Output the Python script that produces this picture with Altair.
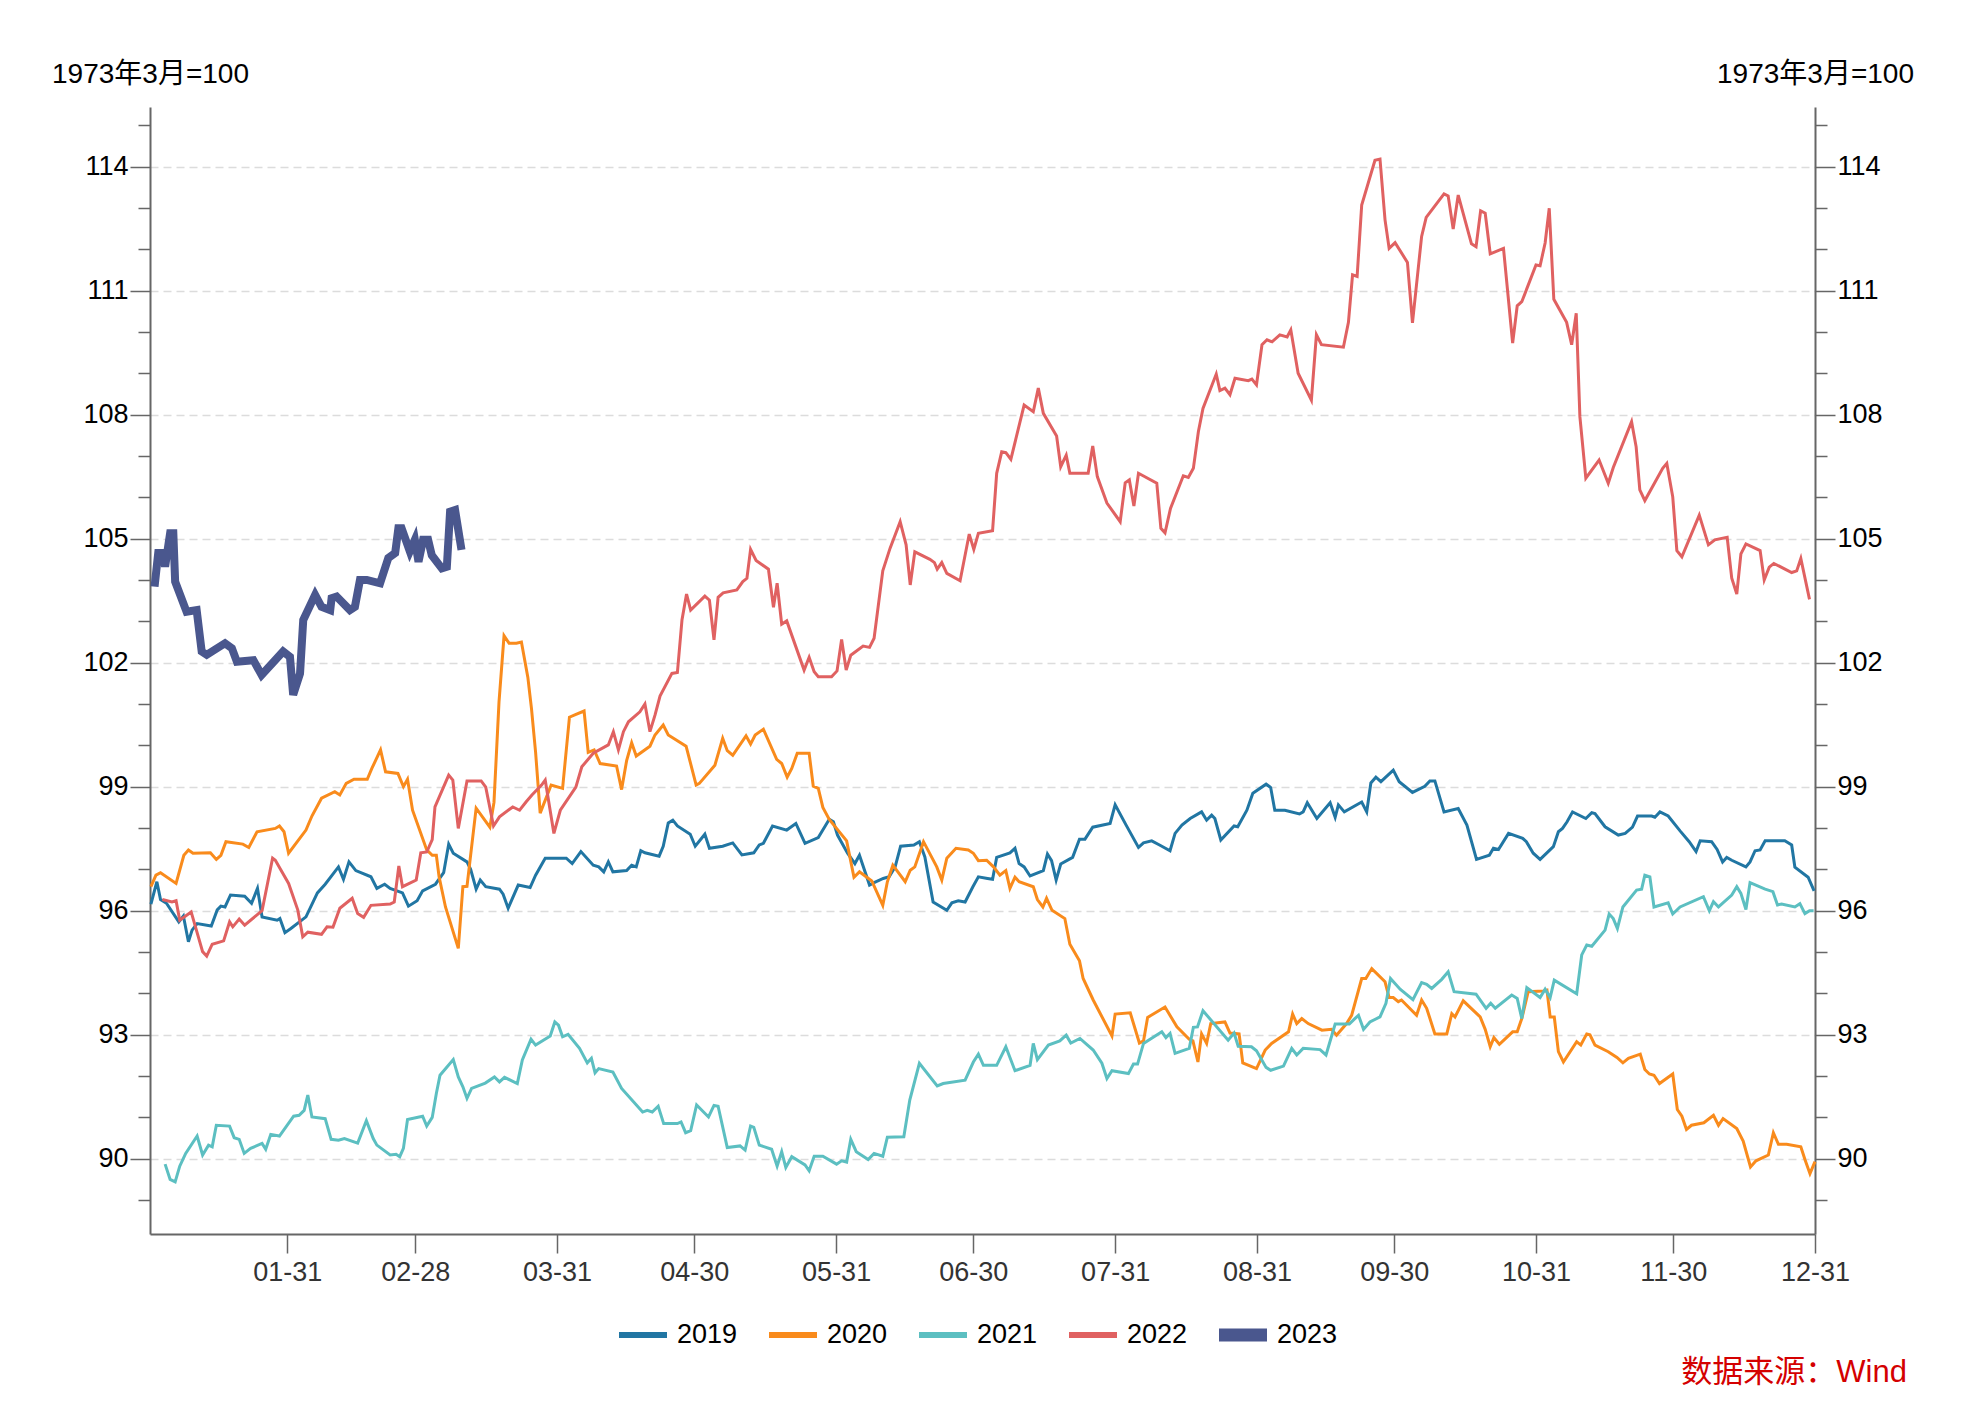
import altair as alt
import pandas as pd

FONT = "Liberation Sans, Noto Sans CJK SC, sans-serif"

years = ["2019", "2020", "2021", "2022", "2023"]
colors = ["#2176a3", "#f98b1c", "#5cbfc1", "#e06161", "#4a578e"]
# legend keys: flat bars (thin for 2019-2022, thick for 2023), same outer extent
thin_key = "M-1,-0.125H1V0.125H-1Z M0,-0.28L0,-0.28 M0,0.28L0,0.28"
thick_key = "M-1,-0.27H1V0.27H-1Z M0,-0.28L0,-0.28 M0,0.28L0,0.28"
legend_keys = [thin_key, thin_key, thin_key, thin_key, thick_key]

# (day of year, index value)
pts_2019 = [(0.2,96.16),(1.5,96.70),(2.3,96.27),(3.6,96.18),(6.3,95.73),(7.3,95.87),(8.4,95.25),(9.2,95.53),(10.3,95.69),(13.4,95.63),(14.7,96.02),(15.5,96.11),(16.4,96.09),(17.6,96.38),(20.7,96.35),(22.2,96.18),(23.5,96.54),(24.5,95.85),(27.8,95.77),(28.4,95.81),(29.5,95.47),(30.8,95.57),(34.1,95.85),(36.6,96.43),(38.3,96.64),(41.2,97.06),(42.3,96.76),(43.5,97.18),(45.0,96.97),(48.3,96.82),(49.6,96.54),(51.3,96.64),(52.5,96.54),(55.2,96.43),(56.5,96.11),(58.4,96.24),(59.6,96.48),(62.4,96.64),(64.2,96.92),(65.3,97.61),(66.3,97.39),(69.3,97.18),(70.1,97.00),(71.3,96.52),(72.2,96.74),(73.4,96.58),(76.4,96.52),(77.2,96.40),(78.3,96.06),(80.5,96.62),(83.1,96.56),(84.3,96.86),(86.4,97.27),(91.0,97.27),(92.3,97.14),(94.2,97.43),(96.9,97.10),(98.1,97.06),(99.2,96.94),(100.2,97.18),(101.2,96.94),(104.2,96.97),(105.3,97.10),(106.3,97.06),(107.3,97.45),(108.2,97.40),(111.3,97.32),(112.2,97.56),(113.3,98.12),(114.3,98.19),(115.3,98.05),(118.1,97.85),(119.2,97.56),(121.3,97.85),(122.3,97.51),(125.2,97.56),(127.4,97.64),(129.4,97.35),(132.0,97.40),(133.2,97.59),(134.1,97.63),(136.1,98.05),(139.2,97.95),(141.2,98.11),(143.2,97.63),(146.1,97.77),(148.5,98.21),(149.4,98.15),(150.3,97.83),(152.5,97.39),(154.1,97.14),(155.1,97.34),(157.3,96.62),(158.3,96.68),(160.3,96.78),(161.6,96.82),(162.9,97.06),(164.1,97.56),(167.0,97.59),(168.2,97.67),(169.4,97.30),(171.2,96.21),(174.2,96.01),(175.3,96.19),(176.7,96.24),(178.2,96.21),(179.9,96.58),(181.1,96.82),(183.1,96.78),(184.2,96.76),(185.1,97.29),(188.0,97.40),(189.1,97.51),(190.0,97.14),(191.1,97.06),(192.4,96.84),(195.3,96.97),(196.2,97.37),(197.1,97.21),(198.1,96.74),(199.1,97.13),(201.7,97.29),(203.2,97.73),(204.4,97.73),(206.1,98.02),(209.9,98.11),(211.0,98.56),(213.4,98.07),(216.1,97.53),(217.2,97.64),(219.0,97.69),(220.7,97.59),(223.0,97.45),(224.1,97.87),(225.6,98.07),(227.4,98.23),(229.9,98.39),(231.0,98.19),(232.1,98.31),(232.8,98.23),(234.1,97.71),(237.0,98.05),(237.8,98.03),(239.8,98.43),(241.1,98.84),(244.0,99.06),(245.0,98.98),(245.9,98.43),(248.1,98.43),(251.3,98.34),(252.1,98.39),(253.0,98.61),(255.1,98.23),(258.0,98.61),(259.1,98.26),(259.8,98.56),(261.1,98.39),(264.9,98.63),(266.0,98.39),(266.9,99.09),(268.0,99.23),(269.1,99.12),(271.8,99.40),(273.1,99.12),(276.0,98.86),(278.7,99.01),(279.8,99.14),(280.9,99.14),(282.9,98.39),(286.0,98.47),(287.9,98.07),(290.0,97.24),(292.8,97.34),(293.7,97.51),(294.8,97.48),(297.0,97.87),(300.1,97.75),(300.9,97.67),(302.4,97.39),(303.9,97.24),(306.8,97.55),(307.9,97.91),(308.8,97.99),(309.8,98.15),(311.0,98.39),(313.9,98.23),(315.2,98.37),(315.9,98.35),(318.1,98.03),(321.0,97.83),(322.5,97.87),(324.1,98.02),(325.2,98.29),(328.3,98.29),(329.0,98.26),(330.1,98.39),(331.9,98.29),(334.5,97.93),(336.5,97.67),(338.0,97.43),(338.9,97.69),(341.4,97.67),(342.6,97.48),(343.8,97.18),(344.7,97.29),(345.8,97.22),(348.9,97.06),(349.8,97.18),(350.9,97.45),(352.0,97.47),(353.1,97.69),(357.4,97.69),(358.9,97.59),(359.6,97.05),(362.5,96.81),(363.8,96.48)]

pts_2020 = [(0.2,96.58),(1.3,96.86),(2.3,96.92),(5.7,96.66),(7.4,97.34),(8.4,97.47),(9.4,97.39),(13.2,97.40),(14.5,97.24),(15.5,97.34),(16.6,97.67),(20.3,97.61),(21.6,97.53),(23.4,97.91),(27.4,97.99),(28.3,98.05),(29.3,97.91),(30.3,97.39),(34.1,97.95),(35.4,98.29),(37.5,98.72),(40.4,98.88),(41.5,98.80),(42.9,99.08),(44.6,99.18),(47.5,99.18),(48.5,99.44),(50.4,99.89),(51.5,99.36),(54.2,99.32),(55.4,99.00),(56.3,99.18),(57.4,98.43),(60.5,97.47),(61.7,97.34),(62.6,97.34),(63.2,96.82),(64.6,96.09),(67.4,95.09),(68.4,96.58),(69.3,96.59),(71.3,98.48),(74.3,98.02),(75.2,98.62),(76.3,101.05),(77.4,102.65),(78.5,102.47),(80.1,102.47),(81.2,102.50),(82.6,101.65),(83.4,100.89),(84.3,99.83),(85.3,98.36),(87.7,99.04),(90.2,98.96),(91.7,100.68),(93.0,100.74),(94.9,100.83),(95.8,99.83),(97.1,99.89),(98.4,99.56),(102.0,99.50),(103.1,98.93),(104.2,99.63),(105.3,100.06),(106.3,99.74),(109.3,99.98),(110.4,100.25),(112.2,100.49),(113.3,100.25),(117.2,99.98),(119.4,99.04),(120.1,99.08),(123.5,99.52),(125.2,100.17),(126.2,99.87),(127.4,99.76),(130.3,100.23),(131.3,100.03),(132.3,100.25),(134.1,100.39),(137.0,99.66),(138.1,99.56),(139.3,99.23),(140.3,99.44),(141.5,99.81),(144.1,99.81),(145.0,99.01),(146.1,98.96),(147.1,98.50),(148.5,98.21),(152.3,97.69),(153.9,96.81),(155.1,96.94),(157.8,96.72),(160.2,96.13),(161.2,96.70),(162.4,97.10),(165.1,96.70),(166.2,96.98),(167.2,97.06),(169.1,97.67),(172.0,97.06),(173.1,96.74),(174.2,97.27),(176.2,97.51),(178.9,97.47),(180.0,97.39),(181.1,97.21),(182.9,97.22),(184.4,97.06),(185.8,96.86),(187.1,96.97),(188.0,96.54),(189.1,96.81),(190.0,96.70),(193.1,96.58),(194.0,96.27),(195.2,96.09),(196.0,96.30),(197.2,96.01),(200.0,95.81),(201.1,95.19),(203.2,94.79),(204.0,94.36),(206.2,93.84),(210.3,92.97),(211.0,93.50),(214.3,93.53),(216.3,92.80),(217.2,92.85),(218.1,93.42),(221.9,93.67),(224.5,93.19),(227.2,92.89),(228.0,92.85),(229.1,92.34),(229.9,93.02),(231.0,92.79),(231.9,93.27),(235.0,93.31),(236.1,93.04),(238.1,93.02),(238.9,92.32),(241.9,92.18),(243.8,92.63),(245.2,92.79),(248.9,93.07),(249.8,93.50),(250.7,93.27),(251.8,93.39),(253.2,93.27),(256.2,93.11),(258.3,93.13),(259.4,92.99),(261.6,93.27),(262.7,93.47),(264.9,94.36),(265.8,94.36),(267.1,94.60),(270.0,94.28),(270.9,93.90),(271.8,93.90),(272.9,93.80),(273.6,93.84),(276.9,93.47),(278.0,93.84),(279.1,93.64),(280.9,93.02),(283.5,93.02),(284.6,93.51),(285.3,93.43),(287.1,93.82),(290.8,93.43),(291.9,93.13),(293.0,92.71),(293.8,92.93),(295.0,92.77),(297.9,93.07),(298.9,93.07),(299.9,93.39),(301.3,94.04),(304.6,94.06),(305.4,94.08),(306.1,93.43),(307.0,93.43),(307.9,92.59),(309.0,92.34),(311.9,92.83),(312.8,92.75),(314.1,93.02),(314.8,93.00),(315.9,92.75),(318.8,92.59),(320.7,92.45),(322.0,92.32),(323.2,92.43),(325.8,92.53),(326.8,92.16),(327.8,92.05),(328.8,92.02),(330.0,91.82),(332.9,92.05),(333.9,91.19),(334.9,91.03),(335.9,90.71),(337.0,90.81),(339.7,90.87),(341.8,91.05),(342.9,90.81),(343.9,90.97),(346.9,90.73),(348.3,90.43),(349.9,89.80),(351.1,89.95),(353.8,90.09),(354.9,90.63),(356.0,90.35),(357.8,90.35),(360.9,90.29),(361.8,89.98),(362.9,89.64),(364.0,89.93)]

pts_2021 = [(3.3,89.87),(4.4,89.50),(5.5,89.44),(6.5,89.82),(7.8,90.13),(10.3,90.55),(11.5,90.09),(12.8,90.33),(13.6,90.29),(14.5,90.81),(17.4,90.79),(18.4,90.51),(19.5,90.47),(20.6,90.13),(22.0,90.25),(24.5,90.37),(25.3,90.23),(26.4,90.59),(28.3,90.55),(31.4,91.03),(32.6,91.05),(33.7,91.17),(34.5,91.54),(35.4,91.01),(38.3,90.97),(39.6,90.47),(41.2,90.45),(42.5,90.49),(45.4,90.38),(47.3,90.92),(48.8,90.49),(49.6,90.33),(52.5,90.09),(53.8,90.11),(54.6,90.05),(55.4,90.25),(56.3,90.95),(59.6,91.03),(60.5,90.79),(61.7,91.00),(62.6,91.58),(63.4,92.02),(66.3,92.40),(67.4,91.98),(68.4,91.74),(69.3,91.46),(70.3,91.70),(73.3,91.83),(75.3,91.98),(76.4,91.86),(77.5,91.97),(80.3,91.82),(81.4,92.39),(83.3,92.89),(84.3,92.75),(87.5,92.97),(88.5,93.31),(89.3,93.23),(90.2,92.95),(91.4,93.01),(93.9,92.67),(95.6,92.32),(96.5,92.43),(97.3,92.08),(98.1,92.18),(101.2,92.10),(103.1,91.70),(107.7,91.13),(108.7,91.17),(109.8,91.13),(111.1,91.27),(112.3,90.85),(115.3,90.85),(116.1,90.89),(117.1,90.63),(118.2,90.68),(119.5,91.30),(122.1,91.01),(123.3,91.29),(124.2,91.27),(126.2,90.27),(129.0,90.31),(130.1,90.21),(131.3,90.79),(132.0,90.76),(133.2,90.33),(135.9,90.23),(137.1,89.82),(138.1,90.17),(139.0,89.79),(140.3,90.05),(143.2,89.85),(144.1,89.71),(145.2,90.06),(147.1,90.06),(150.1,89.87),(151.2,89.95),(152.3,89.92),(153.2,90.47),(154.4,90.17),(157.0,89.98),(158.3,90.13),(160.2,90.06),(161.2,90.52),(164.8,90.53),(166.1,91.42),(168.2,92.31),(172.1,91.76),(173.4,91.82),(178.2,91.90),(180.0,92.34),(181.1,92.53),(182.2,92.26),(185.1,92.26),(187.1,92.71),(189.1,92.13),(192.4,92.26),(193.1,92.79),(194.0,92.40),(196.4,92.75),(198.9,92.85),(200.3,92.99),(201.3,92.80),(203.3,92.91),(206.2,92.63),(208.1,92.31),(209.2,91.94),(210.3,92.13),(213.9,92.06),(215.0,92.29),(215.9,92.29),(217.2,92.79),(221.2,93.07),(222.1,92.93),(223.0,93.03),(224.1,92.55),(227.2,92.67),(228.1,93.18),(229.0,93.19),(230.2,93.58),(235.7,92.87),(237.0,93.04),(237.9,92.72),(240.8,92.71),(241.9,92.61),(244.0,92.21),(245.0,92.14),(247.8,92.24),(249.6,92.67),(250.7,92.51),(252.1,92.67),(255.8,92.64),(257.1,92.51),(259.1,93.26),(262.2,93.26),(263.4,93.39),(264.2,93.47),(265.3,93.13),(266.7,93.31),(268.9,93.43),(270.2,93.76),(271.2,94.36),(273.3,94.10),(276.1,93.85),(278.0,94.26),(279.1,94.22),(280.2,94.12),(282.4,94.34),(283.8,94.52),(285.1,94.04),(289.9,93.98),(292.1,93.64),(293.1,93.76),(294.1,93.64),(297.7,93.96),(298.9,93.88),(299.9,93.39),(301.0,94.14),(303.9,93.90),(305.0,94.10),(306.1,93.90),(307.0,94.32),(311.9,93.99),(313.0,94.93),(314.1,95.17),(315.2,95.14),(318.1,95.53),(319.0,95.92),(319.9,95.81),(320.8,95.57),(322.0,96.09),(325.0,96.50),(326.1,96.52),(326.8,96.86),(327.9,96.82),(328.8,96.09),(331.9,96.19),(332.9,95.92),(334.5,96.09),(339.6,96.34),(340.9,96.00),(341.8,96.22),(342.9,96.09),(345.8,96.38),(346.9,96.58),(347.8,96.42),(348.9,96.03),(349.8,96.68),(353.1,96.52),(354.8,96.46),(355.8,96.14),(356.7,96.16),(359.6,96.09),(360.7,96.17),(361.8,95.93),(362.8,96.00),(363.7,96.00)]

pts_2022 = [(2.7,96.27),(4.8,96.21),(5.7,96.24),(6.5,95.77),(9.0,95.97),(11.5,95.01),(12.4,94.90),(13.6,95.19),(16.1,95.27),(17.4,95.73),(18.1,95.61),(19.5,95.80),(20.7,95.65),(24.5,96.00),(26.8,97.27),(27.4,97.22),(30.3,96.66),(32.3,96.02),(33.4,95.37),(34.5,95.48),(37.5,95.43),(38.7,95.61),(40.0,95.60),(41.5,96.06),(44.2,96.30),(45.4,95.93),(46.7,95.84),(48.3,96.13),(52.5,96.16),(53.4,96.21),(54.4,97.08),(55.2,96.58),(58.2,96.74),(59.2,97.40),(60.5,97.42),(61.7,97.72),(62.3,98.51),(65.3,99.28),(66.2,99.16),(67.4,97.99),(69.3,99.14),(72.4,99.14),(73.4,98.99),(75.1,98.05),(76.4,98.27),(79.3,98.51),(80.8,98.43),(82.2,98.63),(83.5,98.80),(85.6,99.04),(86.4,99.16),(88.3,97.87),(89.7,98.43),(93.1,98.99),(94.4,99.48),(96.9,99.81),(100.2,100.01),(101.3,100.33),(102.4,99.89),(103.5,100.33),(104.6,100.57),(107.1,100.81),(108.2,101.00),(109.3,100.33),(110.4,100.73),(111.5,101.19),(114.1,101.74),(115.3,101.76),(116.3,103.03),(117.3,103.66),(118.2,103.27),(121.3,103.61),(122.3,103.51),(123.3,102.55),(124.2,103.58),(125.3,103.69),(128.3,103.76),(129.6,103.96),(130.5,104.04),(131.3,104.74),(132.5,104.47),(135.2,104.26),(136.3,103.34),(137.1,103.92),(138.1,102.93),(139.2,103.01),(143.0,101.82),(144.1,102.13),(145.2,101.78),(146.1,101.66),(149.0,101.66),(150.2,101.80),(151.2,102.56),(152.2,101.82),(153.2,102.18),(155.9,102.40),(157.3,102.37),(158.3,102.59),(160.2,104.22),(161.8,104.77),(164.0,105.41),(165.3,104.85),(166.2,103.88),(167.2,104.68),(170.5,104.50),(171.5,104.42),(172.1,104.26),(173.1,104.42),(174.2,104.16),(177.1,103.98),(179.1,105.11),(180.1,104.74),(181.1,105.13),(184.2,105.19),(185.1,106.58),(186.2,107.10),(187.1,107.08),(188.2,106.92),(191.1,108.23),(193.1,108.07),(194.2,108.64),(195.3,108.03),(198.2,107.48),(199.1,106.74),(200.3,107.02),(201.1,106.58),(205.1,106.58),(206.1,107.24),(207.1,106.50),(209.2,105.86),(212.1,105.41),(213.2,106.35),(214.1,106.42),(215.1,105.79),(216.1,106.58),(220.1,106.34),(221.0,105.25),(221.9,105.14),(223.1,105.73),(225.9,106.52),(227.0,106.48),(228.1,106.70),(229.2,107.59),(230.2,108.15),(233.1,108.98),(233.9,108.58),(235.0,108.64),(236.1,108.48),(237.2,108.88),(240.1,108.82),(240.9,108.86),(241.9,108.72),(243.1,109.69),(244.2,109.81),(245.3,109.76),(247.0,109.93),(248.6,109.88),(249.4,110.05),(251.0,109.00),(253.9,108.35),(255.0,109.93),(256.1,109.69),(260.9,109.63),(262.0,110.23),(262.9,111.38),(263.9,111.34),(264.9,113.07),(267.8,114.15),(268.9,114.18),(270.0,112.71),(270.9,112.02),(272.2,112.16),(274.9,111.68),(276.0,110.22),(278.0,112.31),(279.0,112.77),(282.9,113.34),(283.8,113.29),(284.9,112.49),(286.0,113.31),(288.9,112.13),(289.9,112.06),(290.9,112.93),(291.9,112.87),(293.0,111.89),(295.9,112.02),(297.9,109.73),(298.9,110.63),(299.9,110.73),(303.0,111.62),(303.9,111.60),(305.0,112.15),(305.9,112.99),(306.9,110.79),(309.7,110.23),(310.8,109.69),(311.8,110.45),(312.6,107.95),(313.9,106.46),(316.8,106.90),(318.8,106.34),(319.9,106.72),(323.9,107.83),(324.9,107.22),(325.7,106.18),(326.8,105.92),(330.7,106.70),(331.6,106.82),(332.9,106.01),(333.8,104.71),(334.9,104.56),(338.7,105.57),(340.7,104.85),(342.1,104.97),(344.8,105.03),(345.8,104.04),(346.9,103.66),(347.8,104.63),(348.9,104.87),(352.0,104.71),(352.9,104.00),(354.0,104.31),(355.0,104.40),(358.9,104.18),(360.0,104.22),(360.9,104.52),(362.8,103.53)]

pts_2023 = [(1.0,103.84),(1.8,104.65),(2.9,104.65),(3.3,104.32),(4.4,105.13),(5.1,105.13),(5.5,103.96),(8.0,103.23),(10.2,103.27),(11.3,102.27),(12.4,102.19),(16.4,102.47),(17.9,102.35),(19.0,102.02),(22.6,102.06),(24.4,101.70),(29.1,102.27),(30.6,102.14),(31.3,101.22),(32.8,101.74),(33.5,103.03),(36.1,103.64),(37.5,103.35),(39.4,103.27),(39.7,103.56),(40.8,103.60),(43.7,103.27),(44.8,103.35),(45.9,104.00),(47.4,104.00),(50.3,103.92),(52.1,104.53),(53.6,104.65),(54.3,105.25),(55.0,105.25),(56.8,104.69),(57.9,104.97),(58.7,104.44),(59.7,104.97),(60.8,104.97),(61.6,104.60),(63.8,104.28),(64.9,104.32),(65.6,105.65),(66.7,105.69),(68.1,104.73)]

series = {"2019": pts_2019, "2020": pts_2020, "2021": pts_2021, "2022": pts_2022, "2023": pts_2023}

tick_days = [30, 58, 89, 119, 150, 180, 211, 242, 272, 303, 333, 364]
tick_labels = ["01-31", "02-28", "03-31", "04-30", "05-31", "06-30",
               "07-31", "08-31", "09-30", "10-31", "11-30", "12-31"]
y_ticks = list(range(89, 116))
y_domain = [88.18, 115.44]
unit_title = "1973年3月=100"
source_text = "数据来源：Wind"

rows = []
for yr, pts in series.items():
    for i, (d, v) in enumerate(pts):
        rows.append({"year": yr, "day": d, "value": v, "idx": i})
df = pd.DataFrame(rows)

x_label_expr = " : ".join(f"datum.value == {d} ? '{l}'" for d, l in zip(tick_days, tick_labels)) + " : ''"
major = "datum.value % 3 === 0"

x_enc = alt.X(
    "day:Q",
    scale=alt.Scale(domain=[0, 364], nice=False, zero=False),
    axis=alt.Axis(values=tick_days, labelExpr=x_label_expr, title=None, grid=False,
                  tickSize=19, tickColor="#666", tickWidth=1.5,
                  domainColor="#666", domainWidth=2,
                  labelFontSize=27, labelColor="#333", labelPadding=6,
                  labelFlush=False, labelOverlap=False, labelFont=FONT),
)


def y_axis(orient):
    return alt.Axis(
        orient=orient, values=y_ticks,
        labelExpr=f"{major} ? datum.label : ''",
        title=unit_title, titleAngle=0, titleAlign="center", titleBaseline="middle",
        titleX=0, titleY=-33, titleFontSize=28, titleFontWeight="normal",
        titleColor="#000", titleFont=FONT,
        labelFontSize=27, labelColor="#000", labelPadding=2, labelFont=FONT,
        labelFlush=False, labelOverlap=False,
        tickSize={"condition": {"test": major, "value": 20}, "value": 12},
        tickColor="#666", tickWidth=1.5,
        domainColor="#666", domainWidth=2,
        grid=(orient == "left"), gridColor="#dcdcdc", gridDash=[8, 5], gridWidth=1.5,
        gridOpacity={"condition": {"test": major, "value": 1}, "value": 0},
    )


leg = alt.Legend(title=None, orient="none", legendX=469, legendY=1204, direction="horizontal",
                 symbolSize=2304, symbolStrokeWidth=0, symbolOpacity=1,
                 labelFontSize=27, labelColor="#000", labelFont=FONT,
                 labelOffset=10, columnPadding=31, padding=0)

color_enc = alt.Color("year:N", scale=alt.Scale(domain=years, range=colors), legend=leg)

lines = alt.Chart(df).mark_line().encode(
    x=x_enc,
    y=alt.Y("value:Q", scale=alt.Scale(domain=y_domain, nice=False, zero=False), axis=y_axis("left")),
    color=color_enc,
    strokeWidth=alt.condition("datum.year === '2023'", alt.value(8), alt.value(3)),
    order=alt.Order("idx:Q"),
    detail="year:N",
)

# empty layer that only supplies the legend key shapes
legend_layer = alt.Chart(df).transform_filter("datum.idx < 0").mark_point(
    filled=True, opacity=1, strokeWidth=0
).encode(
    x=alt.X("day:Q"),
    y=alt.Y("value:Q", scale=alt.Scale(domain=y_domain, nice=False, zero=False), axis=None),
    color=color_enc,
    shape=alt.Shape("year:N", scale=alt.Scale(domain=years, range=legend_keys), legend=leg),
)

right_axis = alt.Chart(pd.DataFrame({"v": y_ticks})).mark_point(opacity=0).encode(
    y=alt.Y("v:Q", scale=alt.Scale(domain=y_domain, nice=False, zero=False), axis=y_axis("right")),
)

source = alt.Chart(pd.DataFrame({"t": [source_text]})).mark_text(
    align="right", baseline="middle", fontSize=31, color="#d40000", font=FONT
).encode(x=alt.value(1757), y=alt.value(1266), text="t:N")

chart = alt.layer(lines, legend_layer, right_axis, source).resolve_scale(
    y="independent"
).properties(
    width=1665, height=1127,
    autosize=alt.AutoSizeParams(type="none"),
    padding={"left": 142, "top": 99, "right": 140, "bottom": 160},
).configure(font=FONT, background="white").configure_view(stroke=None)

chart.save("out.html", embed_options={"renderer": "svg", "actions": False})
